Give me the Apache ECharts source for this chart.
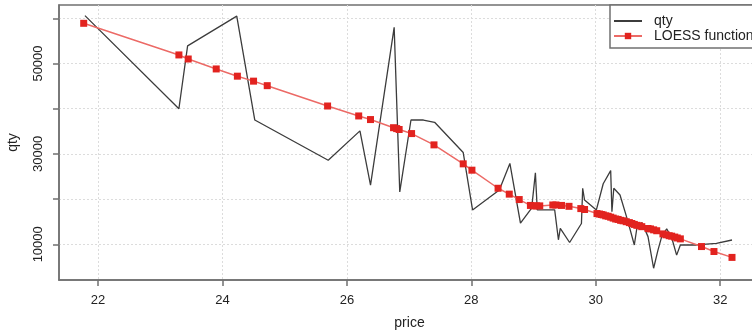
<!DOCTYPE html>
<html>
<head>
<meta charset="utf-8">
<script src="https://cdn.jsdelivr.net/npm/echarts@6/dist/echarts.min.js"></script>
<style>
  html, body { margin: 0; padding: 0; background: #fff; }
  #chart { width: 752px; height: 334px; }
</style>
</head>
<body>
<div id="chart"></div>
<script>
// Observed quantity by price (the raw series, drawn as a plain line)
const qtyPrice = [21.79, 23.30, 23.44, 24.23, 24.52, 25.70, 26.21, 26.38, 26.76, 26.85,
  27.03, 27.23, 27.41, 27.87, 28.02, 28.45, 28.62, 28.79, 28.97, 29.03,
  29.06, 29.34, 29.40, 29.43, 29.58, 29.77, 29.79, 29.82, 30.01, 30.12,
  30.24, 30.26, 30.29, 30.39, 30.51, 30.62, 30.66, 30.74, 30.84, 30.93,
  31.00, 31.06, 31.14, 31.22, 31.30, 31.36, 31.62, 31.94, 32.19];
const qty = [60600, 40000, 53900, 60500, 37500, 28600, 35100, 23100, 58000, 21600,
  37500, 37500, 37000, 30300, 17600, 22000, 27900, 14700, 18000, 25800,
  17600, 17600, 11000, 13500, 10400, 14600, 22400, 19800, 17600, 23400,
  26300, 17200, 22400, 20900, 15400, 9850, 13500, 14800, 11700, 4700,
  8700, 11700, 13400, 11500, 7600, 9850, 9850, 10200, 10950];

// LOESS fitted values at the sampled prices
const fitPrice = [21.77, 23.30, 23.45, 23.90, 24.24, 24.50, 24.72, 25.69, 26.19, 26.38,
  26.75, 26.80, 26.84, 27.04, 27.40, 27.87, 28.01, 28.43, 28.61, 28.77,
  28.95, 29.00, 29.05, 29.10, 29.31, 29.36, 29.45, 29.57, 29.76, 29.82,
  30.02, 30.06, 30.09, 30.12, 30.16, 30.20, 30.24, 30.28, 30.32, 30.36,
  30.40, 30.44, 30.49, 30.54, 30.58, 30.62, 30.66, 30.70, 30.74, 30.84,
  30.88, 30.93, 30.98, 31.08, 31.13, 31.18, 31.22, 31.27, 31.31, 31.36,
  31.70, 31.90, 32.19];
const fit = [58900, 51900, 51000, 48800, 47200, 46100, 45100, 40600, 38400, 37600,
  35800, 35600, 35400, 34500, 32000, 27800, 26400, 22400, 21100, 19900,
  18600, 18500, 18500, 18500, 18700, 18700, 18600, 18400, 17900, 17700,
  16800, 16700, 16600, 16500, 16300, 16200, 16000, 15800, 15600, 15500,
  15300, 15200, 15000, 14800, 14600, 14400, 14200, 14100, 13900, 13500,
  13400, 13200, 13000, 12300, 12100, 11900, 11800, 11600, 11400, 11200,
  9500, 8400, 7100];

// Axis ticks and labels
const xTicks = [22, 24, 26, 28, 30, 32];
const yTicks = [10000, 20000, 30000, 40000, 50000, 60000];
const yLabels = [10000, 30000, 50000];

const FONT = 'Liberation Sans';
const qtySeries = qtyPrice.map((p, i) => [p, qty[i]]);
const fitSeries = fitPrice.map((p, i) => [p, fit[i]]);

const chart = echarts.init(document.getElementById('chart'), null, { renderer: 'canvas' });
chart.setOption({
  animation: false,
  backgroundColor: '#ffffff',
  textStyle: { fontFamily: FONT },
  grid: {
    left: 59, top: 5, right: -8, bottom: 54,
    containLabel: false, outerBoundsMode: 'none',
    show: true, borderColor: '#707070', borderWidth: 1.5, backgroundColor: 'transparent'
  },
  legend: {
    left: 610, top: 5,
    orient: 'vertical',
    padding: [9, 10, 5, 3],
    itemGap: 1,
    itemWidth: 28, itemHeight: 8,
    borderColor: '#707070', borderWidth: 1.5,
    backgroundColor: '#fff',
    textStyle: { fontFamily: FONT, fontSize: 14, color: '#222', padding: [0, 0, 0, 7], lineHeight: 12 },
    data: [
      { name: 'qty', itemStyle: { color: 'rgba(0,0,0,0)', borderWidth: 0 } },
      { name: 'LOESS function' }
    ]
  },
  xAxis: {
    type: 'value',
    min: 21.373, max: 32.64,
    name: 'price', nameLocation: 'middle', nameGap: 36,
    nameTextStyle: { fontFamily: FONT, fontSize: 14, color: '#222' },
    axisLine: { show: true, onZero: false, lineStyle: { color: '#707070', width: 1.5 } },
    axisTick: { show: true, length: 6, customValues: xTicks, lineStyle: { color: '#707070', width: 1.5 } },
    axisLabel: { customValues: xTicks, margin: 14, fontSize: 13, color: '#222', fontFamily: FONT },
    splitLine: { show: true, lineStyle: { color: '#dcdcdc', type: [2, 2], width: 1 } }
  },
  yAxis: {
    type: 'value',
    min: 2100, max: 62950,
    name: 'qty', nameLocation: 'middle', nameGap: 39, nameRotate: 90,
    nameTextStyle: { fontFamily: FONT, fontSize: 14, color: '#222' },
    axisLine: { show: true, onZero: false, lineStyle: { color: '#707070', width: 1.5 } },
    axisTick: { show: true, length: 6, customValues: yTicks, lineStyle: { color: '#707070', width: 1.5 } },
    axisLabel: {
      customValues: yLabels, rotate: 90, margin: 14, fontSize: 13, color: '#222', fontFamily: FONT,
      formatter: (v) => String(v)
    },
    splitLine: { show: true, lineStyle: { color: '#dcdcdc', type: [2, 2], width: 1 } }
  },
  series: [
    {
      name: 'qty',
      type: 'line',
      data: qtySeries,
      showSymbol: false,
      symbol: 'none',
      lineStyle: { color: '#3c3c3c', width: 1.3 },
      itemStyle: { color: '#3c3c3c' },
      z: 2
    },
    {
      name: 'LOESS function',
      type: 'line',
      data: fitSeries,
      symbol: 'rect',
      symbolSize: 7,
      lineStyle: { color: '#ec6a66', width: 1.5 },
      itemStyle: { color: '#e2231f' },
      z: 3
    }
  ]
});
</script>
</body>
</html>
